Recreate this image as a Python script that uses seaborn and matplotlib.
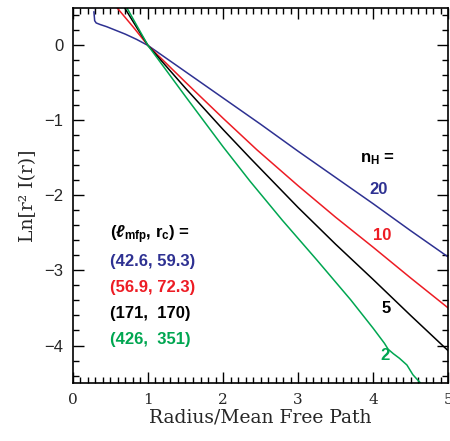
import matplotlib
matplotlib.use("Agg")
import matplotlib.pyplot as plt
import seaborn as sns
import numpy as np

# readings, x = radius / mean free path, y = Ln[r^2 I(r)]
x_20 = [0.28, 0.28, 0.29, 0.31, 0.36, 0.45, 0.55, 0.70, 0.85, 1.0, 1.5, 2.0, 2.5, 3.0, 3.5, 4.0, 4.5, 5.0]
y_20 = [0.50, 0.40, 0.33, 0.30, 0.28, 0.25, 0.21, 0.15, 0.08, 0.0, -0.35, -0.70, -1.05, -1.41, -1.76, -2.11, -2.47, -2.82]

x_10 = [0.59, 0.80, 1.0, 1.5, 2.0, 2.45, 3.0, 3.5, 4.0, 4.5, 5.0]
y_10 = [0.50, 0.25, 0.0, -0.49, -0.97, -1.39, -1.87, -2.29, -2.69, -3.10, -3.50]

x_5 = [0.69, 0.85, 1.0, 1.5, 2.0, 2.36, 3.0, 3.5, 4.0, 4.5, 5.0]
y_5 = [0.50, 0.24, 0.0, -0.57, -1.12, -1.50, -2.16, -2.65, -3.12, -3.60, -4.07]

x_2 = [0.72, 0.86, 1.0, 1.5, 2.0, 2.36, 2.79, 3.25, 3.7, 4.0, 4.15, 4.2, 4.27, 4.35, 4.45, 4.53, 4.63]
y_2 = [0.50, 0.25, 0.0, -0.68, -1.35, -1.81, -2.33, -2.86, -3.39, -3.77, -3.97, -4.05, -4.11, -4.17, -4.26, -4.39, -4.50]

n_H = ["20", "10", "5", "2"]
params = ["(42.6, 59.3)", "(56.9, 72.3)", "(171,  170)", "(426,  351)"]
colors = ["#2e3192", "#ed1c24", "#000000", "#00a651"]

sns.set_style("ticks")
plt.rcParams['mathtext.fontset'] = 'custom'
plt.rcParams['mathtext.rm'] = 'Liberation Sans:bold'
plt.rcParams['mathtext.it'] = 'Liberation Sans:italic:bold'
plt.rcParams['mathtext.bf'] = 'Liberation Sans:bold'

fig = plt.figure(figsize=(4.5, 4.41), dpi=100)
ax = fig.add_axes([0.162, 0.1315, 0.834, 0.8505])

series = [(x_20, y_20), (x_10, y_10), (x_5, y_5), (x_2, y_2)]
for (xs, ys), c in zip(series, colors):
    sns.lineplot(x=xs, y=ys, sort=False, color=c, linewidth=1.1, ax=ax)

ax.set_xlim(0, 5)
ax.set_ylim(-4.5, 0.5)
ax.set_xticks(np.arange(0, 6, 1))
ax.set_xticks(np.arange(0, 5.01, 0.1), minor=True)
ax.set_yticks([-4, -3, -2, -1, 0])
ax.set_yticks(np.arange(-4.4, 0.51, 0.2), minor=True)
ax.set_yticklabels(["\u22124", "\u22123", "\u22122", "\u22121", "0"],
                   family="Liberation Sans", fontsize=12)
ax.set_xticklabels(["0", "1", "2", "3", "4", "5"], family="DejaVu Serif", fontsize=11)
ax.tick_params(which='both', direction='in', top=True, right=True, width=1.0, color='black')
ax.tick_params(which='major', length=8, pad=7)
ax.tick_params(which='minor', length=4)
for s in ax.spines.values():
    s.set_linewidth(1.2)
    s.set_color('black')

ax.set_xlabel("Radius/Mean Free Path", family="DejaVu Serif", fontsize=13.5, labelpad=1)
ax.set_ylabel("Ln[r\u00b2 I(r)]", family="DejaVu Serif", fontsize=13.5, labelpad=5)

tfont = dict(family="Liberation Sans", fontweight="bold", fontsize=12)
ax.text(3.82, -1.52, r"n$_\mathrm{H}$ =", color="black", va="center", **tfont)
label_pos = [(4.07, -1.92), (4.12, -2.54), (4.17, -3.51), (4.16, -4.13)]
for lab, (px, py), c in zip(n_H, label_pos, colors):
    ax.text(px, py, lab, color=c, ha="center", va="center", **tfont)

ax.text(0.5, -2.52, r"($\ell_{\mathrm{mfp}}$, r$_\mathrm{c}$) =", color="black", va="center", **tfont)
for i, (p, c) in enumerate(zip(params, colors)):
    ax.text(0.5, -2.88 - 0.345 * i, p, color=c, va="center", **tfont)

fig.savefig("out.png", dpi=100)
